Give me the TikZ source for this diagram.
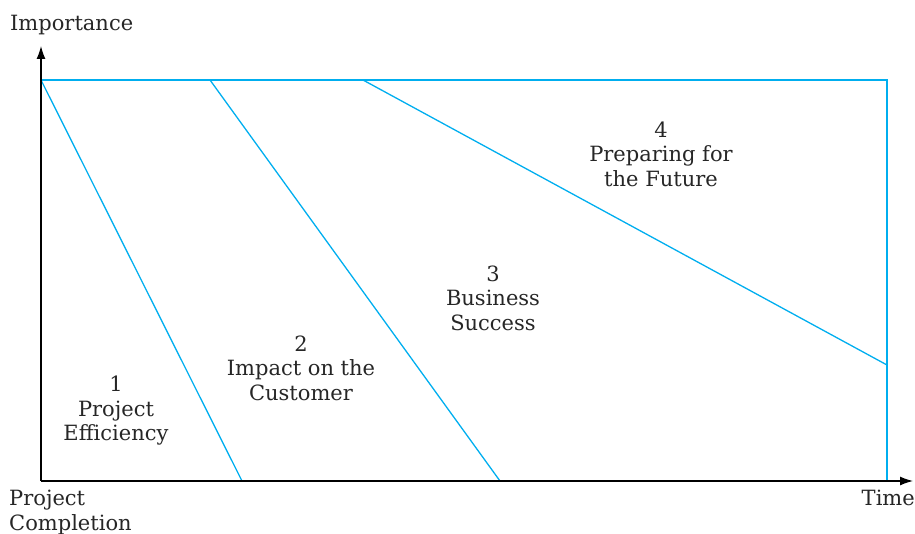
\documentclass[tikz,border=0pt]{standalone}
\usepackage{fontspec}
\setmainfont{DejaVu Serif}
\usetikzlibrary{arrows.meta}
\definecolor{zoneblue}{RGB}{0,174,239}
\begin{document}
\begin{tikzpicture}[x=1pt,y=-1pt,
  zone/.style={draw=zoneblue,line width=1.3pt},
  axis/.style={draw=black,line width=1.3pt,-{Latex[length=13pt,width=9pt]}},
  lbl/.style={font=\fontsize{21}{24.5}\selectfont,text=black!85,align=center,inner sep=0pt},
  axlbl/.style={font=\fontsize{21}{24.5}\selectfont,text=black!85,inner sep=0pt}]
\useasboundingbox (0,0) rectangle (915,534);
% corner points of the frame and the zone boundaries
\coordinate (o) at (41,481);
\coordinate (tl) at (41,80);
\coordinate (tr) at (887,80);
\coordinate (br) at (887,481);
\coordinate (a1) at (242,481);
\coordinate (b0) at (210,80);
\coordinate (b1) at (500,481);
\coordinate (c0) at (363,80);
\coordinate (c1) at (887,365);
\coordinate (ytip) at (41,46);
\coordinate (xtip) at (913,481);
% zones
\draw[zone] (tl) -- (tr) -- (br);
\draw[zone] (tl) -- (a1);
\draw[zone] (b0) -- (b1);
\draw[zone] (c0) -- (c1);
% axes
\draw[axis] (o) -- (ytip);
\draw[axis] (o) -- (xtip);
% axis labels
\node[axlbl,anchor=west] (imp) at (10,25) {Importance};
\node[axlbl,anchor=north west,align=left] (pc) at (9,490) {Project\\Completion};
\node[axlbl,anchor=north east] (time) at (915,490) {Time};
% zone labels
\node[lbl] (z1) at (116,411) {1\\Project\\Efficiency};
\node[lbl] (z2) at (301,368) {2\\Impact on the\\Customer};
\node[lbl] (z3) at (493,298) {3\\Business\\Success};
\node[lbl] (z4) at (661,154) {4\\Preparing for\\the Future};
\end{tikzpicture}
\end{document}
